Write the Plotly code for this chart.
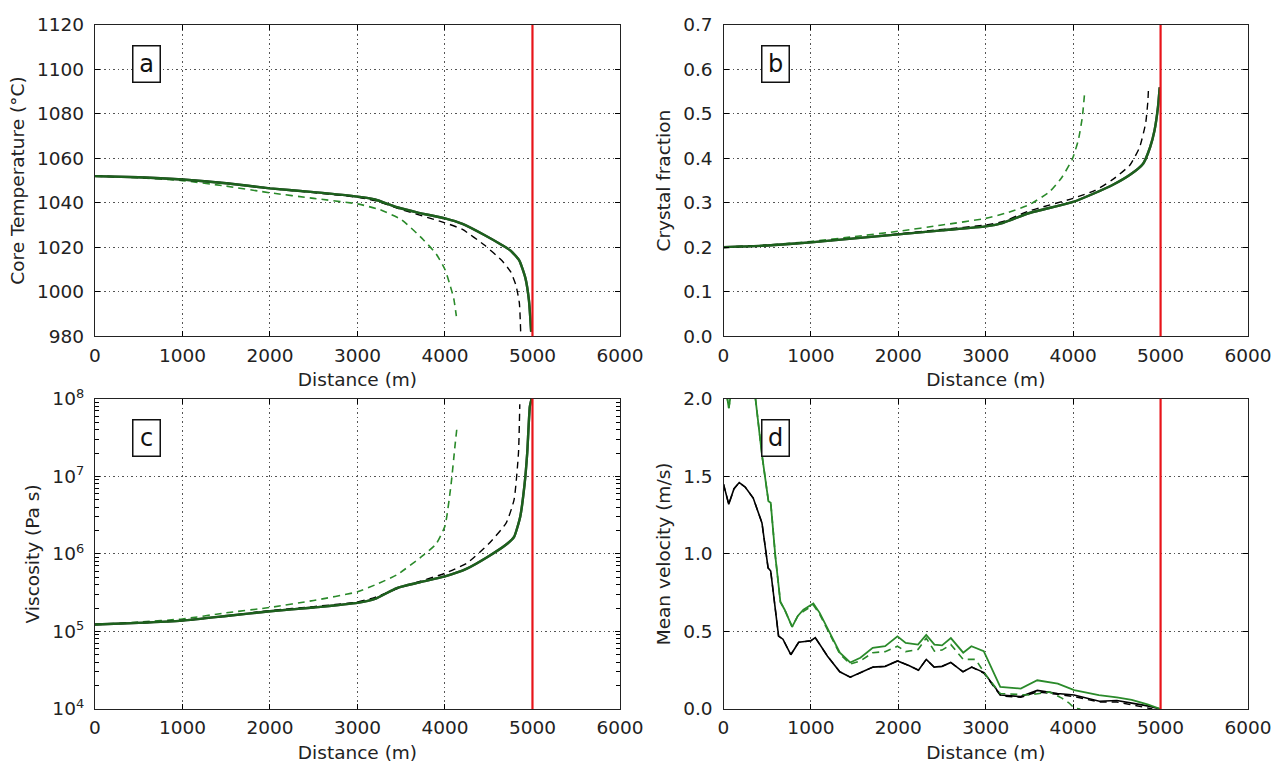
import plotly.graph_objects as go

# ---------------- data ----------------
front_position = 5000  # lava front (red line), m

# (a) Core temperature (deg C)
a_solid_x = [0, 500, 1000, 1500, 2000, 2500, 3000, 3200, 3450, 3700, 4000, 4200, 4450, 4650, 4750, 4850, 4920, 4960, 4985]
a_solid_y = [1052, 1051.5, 1050.5, 1048.8, 1046.5, 1044.8, 1042.8, 1041.5, 1038, 1035.5, 1033, 1030.5, 1025.5, 1021, 1018.5, 1014, 1006, 996, 982]
a_bdash_x = [0, 500, 1000, 1500, 2000, 2500, 3000, 3200, 3500, 4000, 4200, 4450, 4650, 4750, 4810, 4850, 4865]
a_bdash_y = [1052, 1051.5, 1050.5, 1048.8, 1046.5, 1044.6, 1042.5, 1041, 1037, 1031, 1028, 1021, 1014, 1009, 1003, 995, 982]
a_gdash_x = [0, 500, 1000, 1500, 2000, 2500, 3000, 3250, 3500, 3750, 3900, 4000, 4050, 4100, 4130]
a_gdash_y = [1052, 1051.3, 1050, 1047.5, 1044.5, 1042, 1039.5, 1037, 1032.5, 1023.5, 1017, 1010, 1004, 997, 989]

# (b) Crystal fraction
b_solid_x = [0, 500, 1000, 1500, 2000, 2500, 3000, 3200, 3500, 4000, 4250, 4450, 4650, 4800, 4880, 4930, 4970, 4990]
b_solid_y = [0.200, 0.204, 0.211, 0.220, 0.229, 0.238, 0.247, 0.255, 0.277, 0.302, 0.322, 0.340, 0.363, 0.388, 0.425, 0.462, 0.515, 0.56]
b_bdash_x = [0, 500, 1000, 1500, 2000, 2500, 3000, 3200, 3500, 4000, 4250, 4450, 4650, 4760, 4830, 4855, 4862]
b_bdash_y = [0.200, 0.204, 0.211, 0.220, 0.230, 0.240, 0.250, 0.258, 0.282, 0.310, 0.328, 0.352, 0.385, 0.425, 0.480, 0.530, 0.560]
b_gdash_x = [0, 500, 1000, 1500, 2000, 2500, 3000, 3250, 3500, 3730, 3870, 3990, 4060, 4105, 4130]
b_gdash_y = [0.200, 0.205, 0.213, 0.224, 0.236, 0.250, 0.265, 0.278, 0.296, 0.325, 0.357, 0.398, 0.442, 0.493, 0.545]

# (c) Viscosity (Pa s)
c_solid_x = [0, 500, 1000, 1500, 2000, 2500, 3000, 3200, 3450, 3700, 4000, 4250, 4500, 4700, 4790, 4860, 4910, 4940, 4970, 4990]
c_solid_y = [1.23e5, 1.29e5, 1.38e5, 1.58e5, 1.82e5, 2.04e5, 2.34e5, 2.63e5, 3.63e5, 4.27e5, 5.13e5, 6.46e5, 9.33e5,
             1.32e6, 1.66e6, 3.02e6, 7.94e6, 2.0e7, 7.94e7, 1.0e8]
c_bdash_x = [0, 500, 1000, 1500, 2000, 2500, 3000, 3200, 3500, 4000, 4250, 4500, 4700, 4790, 4840, 4855]
c_bdash_y = [1.23e5, 1.29e5, 1.38e5, 1.58e5, 1.86e5, 2.09e5, 2.40e5, 2.75e5, 3.72e5, 5.62e5, 7.59e5, 1.35e6,
             2.51e6, 5.01e6, 2.0e7, 8.5e7]
c_gdash_x = [0, 500, 1000, 1500, 2000, 2500, 3000, 3200, 3450, 3750, 3900, 4000, 4070, 4115, 4140]
c_gdash_y = [1.23e5, 1.32e5, 1.45e5, 1.74e5, 2.04e5, 2.51e5, 3.24e5, 3.98e5, 5.37e5, 9.55e5, 1.35e6, 2.29e6,
             7.94e6, 2.51e7, 4.57e7]

# (d) Mean velocity (m/s)
d_black_x = [0, 60, 120, 180, 250, 340, 440, 510, 540, 580, 630, 680, 770, 860, 1000, 1050, 1190, 1330, 1450, 1570,
             1710, 1850, 1990, 2120, 2230, 2320, 2410, 2500, 2600, 2740, 2840, 2980, 3170, 3400, 3590, 3820, 4010,
             4300, 4500, 4670, 4850, 5000]
d_black_y = [1.45, 1.32, 1.42, 1.46, 1.43, 1.36, 1.20, 0.91, 0.89, 0.70, 0.47, 0.45, 0.35, 0.43, 0.44, 0.46, 0.34,
             0.24, 0.205, 0.235, 0.27, 0.275, 0.31, 0.28, 0.25, 0.32, 0.27, 0.275, 0.30, 0.24, 0.27, 0.235, 0.09,
             0.08, 0.12, 0.10, 0.09, 0.05, 0.055, 0.038, 0.02, 0.0]
d_bdash_x = [0, 60, 120, 180, 250, 340, 440, 510, 540, 580, 630, 680, 770, 860, 1000, 1050, 1190, 1330, 1450, 1570,
             1710, 1850, 1990, 2120, 2230, 2320, 2410, 2500, 2600, 2740, 2840, 2980, 3170, 3400, 3590, 3820, 4010,
             4300, 4500, 4670, 4800, 4906]
d_bdash_y = [1.45, 1.32, 1.42, 1.46, 1.43, 1.36, 1.20, 0.91, 0.89, 0.70, 0.47, 0.45, 0.35, 0.43, 0.44, 0.46, 0.34,
             0.24, 0.205, 0.235, 0.27, 0.275, 0.31, 0.28, 0.25, 0.32, 0.27, 0.275, 0.30, 0.24, 0.27, 0.23, 0.085,
             0.075, 0.11, 0.095, 0.08, 0.045, 0.045, 0.027, 0.01, 0.0]
d_green_x = [0, 30, 61, 100, 150, 300, 366, 442, 514, 540, 594, 651, 700, 785, 850, 914, 1028, 1100, 1190, 1260,
             1331, 1449, 1566, 1707, 1849, 1990, 2084, 2225, 2319, 2413, 2500, 2601, 2742, 2836, 2977, 3166, 3401,
             3589, 3824, 4012, 4294, 4500, 4670, 4850, 5000]
d_green_y = [2.10, 2.05, 1.94, 2.10, 2.30, 2.15, 2.00, 1.63, 1.34, 1.33, 0.98, 0.69, 0.64, 0.53, 0.60, 0.64, 0.68,
             0.62, 0.52, 0.45, 0.363, 0.30, 0.33, 0.395, 0.405, 0.468, 0.426, 0.415, 0.478, 0.415, 0.41, 0.457,
             0.363, 0.405, 0.373, 0.143, 0.132, 0.185, 0.164, 0.122, 0.09, 0.075, 0.059, 0.03, 0.0]
d_gdash_x = [0, 30, 61, 100, 150, 300, 366, 442, 514, 540, 594, 651, 700, 785, 850, 914, 1028, 1100, 1190, 1260,
             1331, 1449, 1566, 1707, 1849, 1990, 2084, 2225, 2319, 2413, 2500, 2601, 2742, 2883, 3000, 3166, 3495,
             3730, 3871, 3950, 4012, 4082]
d_gdash_y = [2.10, 2.05, 1.94, 2.10, 2.30, 2.15, 2.00, 1.63, 1.34, 1.33, 0.98, 0.69, 0.64, 0.53, 0.60, 0.63, 0.67,
             0.61, 0.51, 0.44, 0.355, 0.29, 0.31, 0.363, 0.37, 0.405, 0.37, 0.384, 0.457, 0.373, 0.38, 0.415, 0.32,
             0.32, 0.22, 0.10, 0.09, 0.11, 0.07, 0.04, 0.006, 0.0]

x_ticks = [0, 1000, 2000, 3000, 4000, 5000, 6000]
a_ticks = [980, 1000, 1020, 1040, 1060, 1080, 1100, 1120]
b_ticks = [0.0, 0.1, 0.2, 0.3, 0.4, 0.5, 0.6, 0.7]
c_ticks = [1e4, 1e5, 1e6, 1e7, 1e8]
c_ticktext = ["10<sup>4</sup>", "10<sup>5</sup>", "10<sup>6</sup>", "10<sup>7</sup>", "10<sup>8</sup>"]
c_minor_ticks = [m * 10 ** e for e in range(4, 8) for m in range(2, 10)]
d_ticks = [0.0, 0.5, 1.0, 1.5, 2.0]
panel_labels = ["a", "b", "c", "d"]

# ---------------- styling ----------------
GREEN = "#2a8a2a"
FONT = "DejaVu Sans"
fig = go.Figure()

def add(x, y, xa, ya, color, width, dash="solid", opacity=1.0, smooth=False):
    line = dict(color=color, width=width, dash=dash)
    if smooth:
        line.update(shape="spline", smoothing=0.5)
    fig.add_trace(go.Scatter(x=x, y=y, xaxis=xa, yaxis=ya, mode="lines", line=line,
                             opacity=opacity, showlegend=False, hoverinfo="skip"))

DASH = "7px,5px"
# panel a
add(a_gdash_x, a_gdash_y, "x", "y", GREEN, 1.6, DASH, smooth=True)
add(a_bdash_x, a_bdash_y, "x", "y", "black", 1.4, DASH, smooth=True)
add(a_solid_x, a_solid_y, "x", "y", "black", 2.4, smooth=True)
add(a_solid_x, a_solid_y, "x", "y", GREEN, 2.4, opacity=0.7, smooth=True)
# panel b
add(b_gdash_x, b_gdash_y, "x2", "y2", GREEN, 1.6, DASH, smooth=True)
add(b_bdash_x, b_bdash_y, "x2", "y2", "black", 1.4, DASH, smooth=True)
add(b_solid_x, b_solid_y, "x2", "y2", "black", 2.4, smooth=True)
add(b_solid_x, b_solid_y, "x2", "y2", GREEN, 2.4, opacity=0.7, smooth=True)
# panel c
add(c_gdash_x, c_gdash_y, "x3", "y3", GREEN, 1.6, DASH, smooth=True)
add(c_bdash_x, c_bdash_y, "x3", "y3", "black", 1.4, DASH, smooth=True)
add(c_solid_x, c_solid_y, "x3", "y3", "black", 2.4, smooth=True)
add(c_solid_x, c_solid_y, "x3", "y3", GREEN, 2.4, opacity=0.7, smooth=True)
# panel d
add(d_bdash_x, d_bdash_y, "x4", "y4", "black", 1.4, DASH)
add(d_black_x, d_black_y, "x4", "y4", "black", 1.6)
add(d_gdash_x, d_gdash_y, "x4", "y4", GREEN, 1.6, DASH)
add(d_green_x, d_green_y, "x4", "y4", GREEN, 1.8)

FS = 18.5
tickfont = dict(family=FONT, size=FS, color="#222")
titlefont = dict(family=FONT, size=FS, color="#222")

def xaxis(domain, anchor):
    return dict(domain=domain, anchor=anchor, range=[0, 6000], tickvals=x_ticks,
                ticks="inside", ticklen=5, tickcolor="black", mirror="ticks",
                showline=True, linecolor="#222", linewidth=1.3,
                showgrid=True, gridcolor="#555", griddash="1.5px,3px", gridwidth=1,
                zeroline=False, tickfont=tickfont, ticklabelstandoff=2,
                title=dict(text="Distance (m)", font=titlefont, standoff=8))

def yaxis(domain, anchor, title, **kw):
    d = dict(domain=domain, anchor=anchor,
             ticks="inside", ticklen=5, tickcolor="black", mirror="ticks",
             showline=True, linecolor="#222", linewidth=1.3,
             showgrid=True, gridcolor="#555", griddash="1.5px,3px", gridwidth=1,
             zeroline=False, tickfont=tickfont, ticklabelstandoff=6,
             title=dict(text=title, font=titlefont, standoff=7))
    d.update(kw)
    return d

XL = [0, 0.4553]
XR = [0.5451, 1.0]
YT = [0.5451, 1.0]
YB = [0.0, 0.4535]

fig.update_layout(
    width=1284, height=771,
    margin=dict(l=95, r=36, t=16, b=56),
    paper_bgcolor="white", plot_bgcolor="white",
    font=dict(family=FONT, color="#222"),
    xaxis=xaxis(XL, "y"),
    xaxis2=xaxis(XR, "y2"),
    xaxis3=xaxis(XL, "y3"),
    xaxis4=xaxis(XR, "y4"),
    yaxis=yaxis(YT, "x", "Core Temperature (°C)", range=[980, 1120], tickvals=a_ticks),
    yaxis2=yaxis(YT, "x2", "Crystal fraction", range=[0, 0.7], tickvals=b_ticks, tickformat=".1f"),
    yaxis3=yaxis(YB, "x3", "Viscosity (Pa s)", type="log", range=[4, 8], tickvals=c_ticks, ticktext=c_ticktext,
                 minor=dict(tickmode="array", tickvals=c_minor_ticks, ticks="inside", ticklen=4,
                            tickcolor="black", showgrid=False)),
    yaxis4=yaxis(YB, "x4", "Mean velocity (m/s)", range=[0, 2], tickvals=d_ticks, tickformat=".1f"),
)

# red vertical front lines
for xa, ya in [("x", "y"), ("x2", "y2"), ("x3", "y3"), ("x4", "y4")]:
    fig.add_shape(type="line", xref=xa, yref=ya + " domain", x0=front_position, x1=front_position,
                  y0=0, y1=1, line=dict(color="#e8141a", width=2.2))

# panel letters
for lab, xa, ya in zip(panel_labels, ["x", "x2", "x3", "x4"], ["y", "y2", "y3", "y4"]):
    fig.add_annotation(text=lab, xref=xa + " domain", yref=ya + " domain", x=0.0985, y=0.875,
                       showarrow=False, font=dict(family=FONT, size=24, color="#111"),
                       bgcolor="white", bordercolor="#111", borderwidth=1.5, borderpad=3,
                       width=20, height=29, xanchor="center", yanchor="middle")

fig.write_html("out.html", config={"displayModeBar": False},
               post_script="document.body.style.margin='0px';document.body.style.overflow='hidden';")
